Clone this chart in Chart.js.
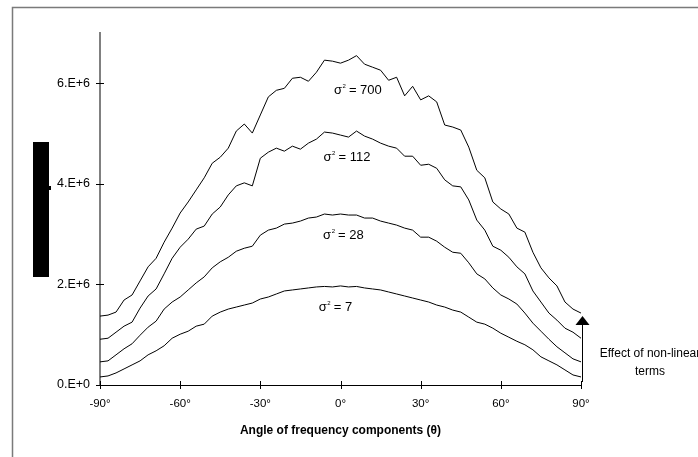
<!DOCTYPE html>
<html><head><meta charset="utf-8">
<script src="https://cdn.jsdelivr.net/npm/chart.js@4/dist/chart.umd.min.js"></script>
<style>html,body{margin:0;padding:0;background:#fff;}canvas{display:block}</style>
</head><body>
<canvas id="c" width="698" height="457"></canvas>
<script>
// ---- data (values in units of 1e6) ----
const angles = [-90,-87,-84,-81,-78,-75,-72,-69,-66,-63,-60,-57,-54,-51,-48,-45,-42,-39,-36,-33,-30,-27,-24,-21,-18,-15,-12,-9,-6,-3,0,3,6,9,12,15,18,21,24,27,30,33,36,39,42,45,48,51,54,57,60,63,66,69,72,75,78,81,84,87,90];
const sigma700 = [1.37,1.39,1.45,1.69,1.79,2.07,2.35,2.52,2.84,3.12,3.42,3.64,3.88,4.12,4.41,4.53,4.71,5.05,5.19,5.01,5.37,5.73,5.86,5.90,6.10,6.12,6.04,6.22,6.46,6.44,6.40,6.46,6.55,6.38,6.32,6.26,6.06,6.12,5.75,5.94,5.67,5.75,5.63,5.17,5.13,5.07,4.73,4.27,4.12,3.64,3.50,3.40,3.12,3.04,2.64,2.33,2.13,1.97,1.65,1.51,1.43];
const sigma112 = [0.91,0.93,1.05,1.17,1.25,1.53,1.77,1.91,2.21,2.52,2.74,2.90,3.10,3.16,3.40,3.54,3.78,3.96,4.02,3.96,4.51,4.63,4.71,4.65,4.75,4.69,4.81,4.89,5.03,5.01,4.97,4.93,5.05,4.95,4.89,4.81,4.75,4.71,4.55,4.55,4.37,4.39,4.31,4.08,3.96,3.94,3.68,3.28,3.08,2.76,2.68,2.54,2.35,2.21,1.87,1.65,1.43,1.29,1.13,1.05,0.93];
const sigma28 = [0.46,0.48,0.60,0.72,0.82,0.99,1.15,1.27,1.51,1.65,1.75,1.89,2.03,2.15,2.33,2.45,2.54,2.66,2.72,2.76,2.98,3.08,3.12,3.20,3.22,3.26,3.32,3.34,3.40,3.38,3.40,3.38,3.38,3.32,3.32,3.26,3.22,3.18,3.12,3.08,2.94,2.94,2.86,2.74,2.64,2.62,2.43,2.21,2.11,1.93,1.79,1.71,1.61,1.43,1.23,1.07,0.91,0.76,0.64,0.52,0.46];
const sigma7 = [0.16,0.18,0.24,0.32,0.40,0.48,0.60,0.68,0.78,0.93,1.01,1.07,1.17,1.21,1.37,1.45,1.51,1.55,1.59,1.63,1.71,1.75,1.81,1.87,1.89,1.91,1.93,1.95,1.96,1.95,1.97,1.95,1.96,1.93,1.91,1.89,1.85,1.81,1.77,1.73,1.69,1.65,1.59,1.55,1.49,1.45,1.35,1.25,1.21,1.13,1.03,0.95,0.87,0.80,0.70,0.56,0.48,0.40,0.30,0.20,0.16];
const sigmaValues = ['700','112','28','7'];
const xTicks = [-90,-60,-30,0,30,60,90];
const yTicks = [0,2e6,4e6,6e6];
const yTickLabels = ['0.E+0','2.E+6','4.E+6','6.E+6'];
const xTitle = 'Angle of frequency components (\u03B8)';
const noteLines = ['Effect of non-linear','terms'];

const seriesList = [sigma700, sigma112, sigma28, sigma7];
// label anchor (angle, value in 1e6) for each curve label
const labelAnchors = [[6.5,5.85],[2.4,4.53],[1.1,2.98],[-1.9,1.55]];

const FONT = "'Liberation Sans', Arial, sans-serif";

const decor = {
  id: 'decor',
  afterDraw(chart) {
    const ctx = chart.ctx, xs = chart.scales.x, ys = chart.scales.y;
    const ca = chart.chartArea;
    ctx.save();
    // outer frame (left and top edges visible)
    ctx.strokeStyle = '#7a7a7a'; ctx.lineWidth = 1.5;
    ctx.beginPath();
    ctx.moveTo(12.5, 460); ctx.lineTo(12.5, 7.5); ctx.lineTo(700, 7.5);
    ctx.stroke();
    // black block (masked axis title)
    ctx.fillStyle = '#000';
    ctx.fillRect(33, 142, 16, 135);
    ctx.fillRect(49, 186, 2, 4);
    // crossing tick marks
    ctx.strokeStyle = '#000'; ctx.lineWidth = 1;
    ctx.beginPath();
    xTicks.forEach(v => {
      const px = Math.round(xs.getPixelForValue(v)) + 0.5;
      ctx.moveTo(px, ca.bottom - 4); ctx.lineTo(px, ca.bottom + 4);
    });
    yTicks.forEach(v => {
      const py = Math.round(ys.getPixelForValue(v)) + 0.5;
      ctx.moveTo(ca.left - 4, py); ctx.lineTo(ca.left + 4, py);
    });
    ctx.stroke();
    // curve labels
    ctx.fillStyle = '#000';
    ctx.textBaseline = 'middle';
    labelAnchors.forEach((a, i) => {
      const cx = xs.getPixelForValue(a[0]);
      const cy = ys.getPixelForValue(a[1] * 1e6);
      const big = '13px ' + FONT, small = '6px ' + FONT;
      ctx.font = big; const w1 = ctx.measureText('\u03C3').width;
      ctx.font = small; const w2 = ctx.measureText('2').width;
      const rest = ' = ' + sigmaValues[i];
      ctx.font = big; const w3 = ctx.measureText(rest).width;
      let x0 = cx - (w1 + w2 + w3) / 2;
      ctx.textAlign = 'left';
      ctx.font = big; ctx.fillText('\u03C3', x0, cy);
      ctx.font = small; ctx.fillText('2', x0 + w1 + 0.5, cy - 4);
      ctx.font = big; ctx.fillText(rest, x0 + w1 + w2, cy);
    });
    // arrow
    const ax = Math.round(xs.getPixelForValue(90)) + 1.5;
    ctx.beginPath();
    ctx.moveTo(ax, ca.bottom - 3); ctx.lineTo(ax, 323);
    ctx.stroke();
    ctx.beginPath();
    ctx.moveTo(ax, 316); ctx.lineTo(ax - 7, 325); ctx.lineTo(ax + 7, 325); ctx.closePath();
    ctx.fill();
    // note text
    ctx.font = '12px ' + FONT;
    ctx.textAlign = 'center';
    ctx.fillText(noteLines[0], 650, 354);
    ctx.fillText(noteLines[1], 650, 372);
    ctx.restore();
  }
};

new Chart(document.getElementById('c'), {
  type: 'line',
  data: {
    datasets: seriesList.map((s, i) => ({
      label: '\u03C3\u00B2 = ' + sigmaValues[i],
      data: angles.map((a, j) => ({x: a, y: s[j] * 1e6})),
      borderColor: '#000', borderWidth: 1, pointRadius: 0, tension: 0, fill: false
    }))
  },
  options: {
    responsive: false, animation: false,
    layout: {padding: {left: 0, top: 33, right: 117, bottom: 0}},
    plugins: {legend: {display: false}, tooltip: {enabled: false}},
    scales: {
      x: {
        type: 'linear', min: -90, max: 90,
        afterBuildTicks: s => { s.ticks = xTicks.map(v => ({value: v})); },
        afterFit: s => { s.height = 72; },
        grid: {display: true, drawOnChartArea: false, drawTicks: false},
        border: {display: true, color: '#000', width: 1},
        ticks: {padding: 12, color: '#000', autoSkip: false, maxRotation: 0,
                font: {family: FONT, size: 11.5}, callback: v => v + '\u00B0'},
        title: {display: true, text: xTitle, color: '#000',
                font: {family: FONT, size: 12, weight: 'bold'}, padding: {top: 0, bottom: 19}}
      },
      y: {
        min: 0, max: 7e6,
        afterBuildTicks: s => { s.ticks = yTicks.map(v => ({value: v})); },
        afterFit: s => { s.width = 100; },
        grid: {display: true, drawOnChartArea: false, drawTicks: false},
        border: {display: true, color: '#808080', width: 2},
        ticks: {padding: 10, color: '#000', font: {family: FONT, size: 12.5},
                callback: v => yTickLabels[yTicks.indexOf(v)]}
      }
    }
  },
  plugins: [decor]
});
</script>
</body></html>
